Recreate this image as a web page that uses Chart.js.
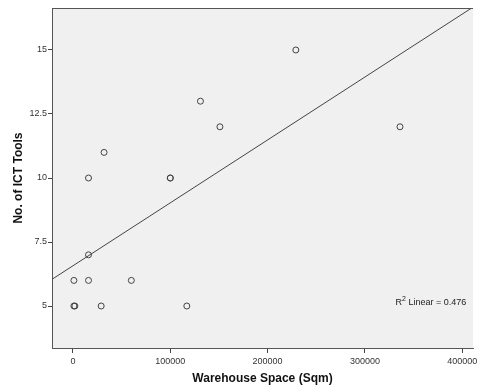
<!DOCTYPE html>
<html>
<head>
<meta charset="utf-8">
<script src="https://cdn.jsdelivr.net/npm/chart.js@4/dist/chart.umd.min.js"></script>
<style>
  html, body { margin: 0; padding: 0; background: #ffffff; }
  #wrap { width: 478px; height: 390px; }
</style>
</head>
<body>
<div id="wrap"><canvas id="c" width="478" height="390"></canvas></div>
<script>
// Warehouse space (sqm) for each firm and the number of ICT tools it uses
const warehouseSpace = [229000, 131000, 151000, 336000, 32000, 16000, 100000, 100000,
                        16000, 1000, 16000, 60000, 1000, 2000, 29000, 117000];
const ictTools       = [15, 13, 12, 12, 11, 10, 10, 10,
                        7, 6, 6, 6, 5, 5, 5, 5];

const xTicks = [0, 100000, 200000, 300000, 400000];
const yTicks = [5, 7.5, 10, 12.5, 15];
const xRange = [-21500, 411000];
const yRange = [3.36, 16.64];
const r2Label = 'Linear = 0.476';

// Least-squares fit of tools on warehouse space
function linearFit(xs, ys) {
  const n = xs.length;
  const mx = xs.reduce((a, b) => a + b, 0) / n;
  const my = ys.reduce((a, b) => a + b, 0) / n;
  let sxy = 0, sxx = 0;
  for (let i = 0; i < n; i++) {
    sxy += (xs[i] - mx) * (ys[i] - my);
    sxx += (xs[i] - mx) * (xs[i] - mx);
  }
  const slope = sxy / sxx;
  return { slope, intercept: my - slope * mx };
}
const fit = linearFit(warehouseSpace, ictTools);
const fitLine = xRange.map(x => ({ x, y: fit.intercept + fit.slope * x }));
const points = warehouseSpace.map((x, i) => ({ x, y: ictTools[i] }));

const ink = '#444444';
const tickFont = { family: 'Liberation Sans, Arial, sans-serif', size: 9 };
const titleFont = { family: 'Liberation Sans, Arial, sans-serif', size: 12, weight: 'bold' };

// Grey plot panel with a frame on top, plus the R² annotation
const panel = {
  id: 'panel',
  beforeDraw(chart) {
    const { ctx, chartArea: a } = chart;
    ctx.save();
    ctx.fillStyle = '#f0f0f0';
    ctx.fillRect(a.left, a.top, a.right - a.left, a.bottom - a.top);
    ctx.restore();
  },
  afterDraw(chart) {
    const { ctx, chartArea: a } = chart;
    ctx.save();
    ctx.strokeStyle = '#555555';
    ctx.lineWidth = 1;
    ctx.beginPath();
    ctx.moveTo(a.left, a.top + 0.5);
    ctx.lineTo(a.right, a.top + 0.5);
    ctx.stroke();

    // R² Linear annotation
    const xs = chart.scales.x, ys = chart.scales.y;
    const px = xs.getPixelForValue(331500);
    const py = ys.getPixelForValue(5.04);
    ctx.fillStyle = '#222222';
    ctx.textBaseline = 'alphabetic';
    ctx.font = '9px Liberation Sans, Arial, sans-serif';
    ctx.fillText('R', px, py);
    const wR = ctx.measureText('R').width;
    ctx.font = '7px Liberation Sans, Arial, sans-serif';
    ctx.fillText('2', px + wR, py - 4);
    const w2 = ctx.measureText('2').width;
    ctx.font = '9px Liberation Sans, Arial, sans-serif';
    ctx.fillText(' ' + r2Label, px + wR + w2, py);
    ctx.restore();
  }
};

new Chart(document.getElementById('c'), {
  type: 'scatter',
  data: {
    datasets: [
      {
        label: 'Observed',
        data: points,
        pointStyle: 'circle',
        pointRadius: 3,
        pointBorderWidth: 1,
        pointBorderColor: ink,
        pointBackgroundColor: 'rgba(0,0,0,0)',
        order: 1
      },
      {
        label: 'Linear',
        type: 'line',
        data: fitLine,
        borderColor: ink,
        borderWidth: 1,
        pointRadius: 0,
        fill: false,
        order: 2
      }
    ]
  },
  options: {
    responsive: false,
    animation: false,
    devicePixelRatio: 1,
    layout: { padding: { top: 8, right: 3, left: 0, bottom: 0 } },
    plugins: { legend: { display: false }, tooltip: { enabled: false } },
    scales: {
      x: {
        type: 'linear',
        min: xRange[0],
        max: xRange[1],
        afterBuildTicks(scale) { scale.ticks = xTicks.map(v => ({ value: v })); },
        afterFit(scale) { scale.height = 42; scale.paddingRight = 0; scale.paddingLeft = 0; },
        grid: { display: true, drawOnChartArea: false, drawTicks: true, tickLength: 5, color: ink },
        border: { display: true, color: '#555555', width: 1 },
        ticks: { font: tickFont, color: '#333333', padding: 3, maxRotation: 0, autoSkip: false,
                 callback: v => String(v) },
        title: { display: true, text: 'Warehouse Space (Sqm)', font: titleFont, color: '#111111',
                 padding: { top: 0, bottom: 4 } }
      },
      y: {
        type: 'linear',
        min: yRange[0],
        max: yRange[1],
        afterBuildTicks(scale) { scale.ticks = yTicks.map(v => ({ value: v })); },
        afterFit(scale) { scale.width = 52; scale.paddingTop = 0; scale.paddingBottom = 0; },
        grid: { display: true, drawOnChartArea: false, drawTicks: true, tickLength: 4, color: ink },
        border: { display: true, color: '#555555', width: 1 },
        ticks: { font: tickFont, color: '#333333', padding: 1, autoSkip: false,
                 callback: v => String(v) },
        title: { display: true, text: 'No. of ICT Tools', font: titleFont, color: '#111111',
                 padding: { top: 11, bottom: 0 } }
      }
    }
  },
  plugins: [panel]
});
</script>
</body>
</html>
